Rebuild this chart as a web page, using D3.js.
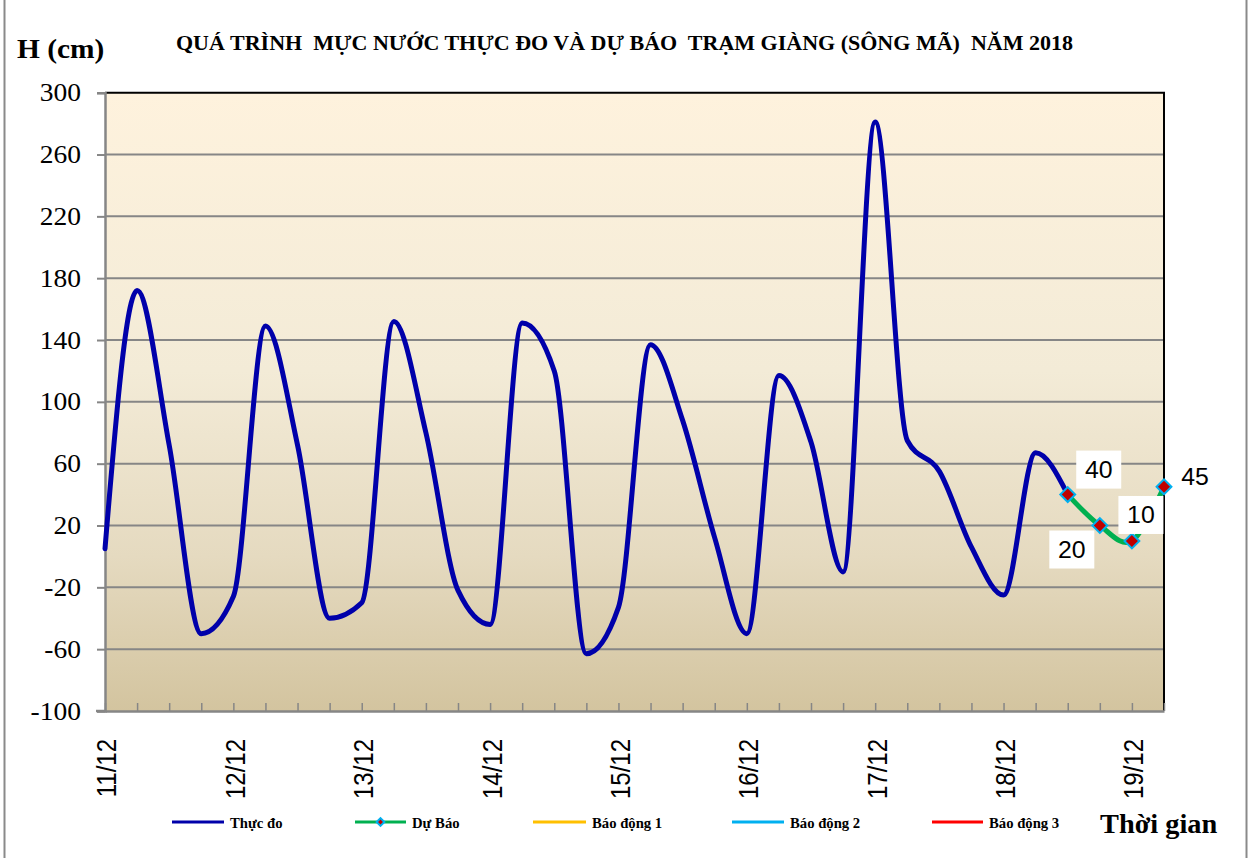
<!DOCTYPE html>
<html>
<head>
<meta charset="utf-8">
<script src="https://cdn.jsdelivr.net/npm/d3@7"></script>
<style>
  html, body { margin: 0; padding: 0; background: #fff; }
  svg { display: block; }
  text { white-space: pre; }
</style>
</head>
<body>
<svg id="chart" width="1251" height="858"></svg>
<script>
// ---------------- DATA ----------------
const title = "QUÁ TRÌNH  MỰC NƯỚC THỰC ĐO VÀ DỰ BÁO  TRẠM GIÀNG (SÔNG MÃ)  NĂM 2018";
const yAxisTitle = "H (cm)";
const xAxisTitle = "Thời gian";
// one category every 6 hours; a day label every 4 categories
const dayLabels = ["11/12", "12/12", "13/12", "14/12", "15/12", "16/12", "17/12", "18/12", "19/12"];
const stepsPerDay = 4;
const categoryCount = 34;
// observed water level (Thực đo), categories 0..30
const observed = [5, 172, 72, -50, -26, 149, 72, -40, -30, 152, 80, -22, -44, 151, 120, -63, -33,
                  137, 88, 12, -50, 117, 74, -10, 281, 75, 55, 6, -25, 67, 40];
// forecast (Dự Báo), categories 30..33
const forecastStart = 30;
const forecast = [40, 20, 10, 45];
const yTicks = [-100, -60, -20, 20, 60, 100, 140, 180, 220, 260, 300];
const legendNames = ["Thực đo", "Dự Báo", "Báo động 1", "Báo động 2", "Báo động 3"];

// ---------------- STYLE / LAYOUT ----------------
const colors = { observed: "#0000AA", forecast: "#00B050", bd1: "#FFC000", bd2: "#00B0F0", bd3: "#FF0000",
                 markerFill: "#C00000", markerStroke: "#00B0F0" };
const labelOffsets = [[31, -25], [-28, 24], [9, -26], [31, -10]];
const labelBoxed = [true, true, true, false];
const sx = 1.1; // horizontal stretch of the original picture's text

const svg = d3.select("#chart");
const pLeft = 105, pRight = 1164, pTop = 92.7, pBottom = 711;

const x = d3.scaleLinear().domain([0, categoryCount - 1]).range([pLeft, pRight]);
const y = d3.scaleLinear().domain([-100, 300]).range([pBottom, pTop]);

// outer frame
svg.append("rect").attr("x", 4.5).attr("y", -5).attr("width", 1242).attr("height", 870)
  .attr("fill", "none").attr("stroke", "#8a8a8a").attr("stroke-width", 2);

// plot background gradient
const defs = svg.append("defs");
const grad = defs.append("linearGradient").attr("id", "bg").attr("x1", 0).attr("y1", 0).attr("x2", 0).attr("y2", 1);
grad.append("stop").attr("offset", "0%").attr("stop-color", "#FEF2DD");
grad.append("stop").attr("offset", "45%").attr("stop-color", "#F3EBD7");
grad.append("stop").attr("offset", "75%").attr("stop-color", "#E5DAC0");
grad.append("stop").attr("offset", "100%").attr("stop-color", "#D3C49F");
svg.append("rect").attr("x", pLeft).attr("y", pTop).attr("width", pRight - pLeft).attr("height", pBottom - pTop)
  .attr("fill", "url(#bg)");

// gridlines
svg.append("g").selectAll("line").data(yTicks.filter(d => d > -100 && d < 300)).join("line")
  .attr("x1", pLeft).attr("x2", pRight).attr("y1", d => y(d)).attr("y2", d => y(d))
  .attr("stroke", "#868686").attr("stroke-width", 2);

// top/right border
svg.append("path").attr("d", `M${pLeft},${pTop}H${pRight}V${pBottom}`)
  .attr("fill", "none").attr("stroke", "#000").attr("stroke-width", 2);

// y axis
const yAxis = d3.axisLeft(y).tickValues(yTicks).tickSize(8).tickFormat(d => String(d));
const gy = svg.append("g").attr("transform", `translate(${pLeft},0)`).call(yAxis);
gy.select(".domain").attr("stroke", "#868686").attr("stroke-width", 2.5);
gy.selectAll(".tick line").attr("stroke", "#868686").attr("stroke-width", 2);
gy.selectAll(".tick text")
  .attr("x", null).attr("dy", null)
  .attr("transform", `translate(-24,8) scale(${sx},1)`)
  .attr("font-family", "Liberation Serif, Times New Roman, serif").attr("font-size", 25).attr("fill", "#000");

// x axis (ticks inward) with day labels
const xAxis = d3.axisBottom(x).tickValues(d3.range(0, categoryCount)).tickSizeInner(-8).tickSizeOuter(0)
  .tickFormat(() => "");
const gx = svg.append("g").attr("transform", `translate(0,${pBottom})`).call(xAxis);
gx.select(".domain").attr("stroke", "#868686").attr("stroke-width", 2.5);
gx.selectAll(".tick line").attr("stroke", "#868686").attr("stroke-width", 1.5);
svg.append("line").attr("x1", pLeft - 9).attr("x2", pLeft).attr("y1", pBottom).attr("y2", pBottom)
  .attr("stroke", "#868686").attr("stroke-width", 2.5);

svg.append("g").selectAll("text").data(dayLabels).join("text")
  .attr("transform", (d, i) => `translate(${x(i * stepsPerDay) + 2},739) scale(1.12,1) rotate(-90)`)
  .attr("text-anchor", "end").attr("dy", "0.35em")
  .attr("font-family", "Liberation Sans, Arial, sans-serif").attr("font-size", 24).attr("fill", "#000")
  .text(d => d);

// lines
const line = d3.line().x(d => x(d.i)).y(d => y(d.v)).curve(d3.curveMonotoneX);
const obsData = observed.map((v, i) => ({ i, v }));
const fcData = forecast.map((v, k) => ({ i: forecastStart + k, v }));

svg.append("path").datum(obsData).attr("d", line)
  .attr("fill", "none").attr("stroke", colors.observed).attr("stroke-width", 5)
  .attr("stroke-linejoin", "round").attr("stroke-linecap", "round");
svg.append("path").datum(fcData).attr("d", d3.line().x(d => x(d.i)).y(d => y(d.v)).curve(d3.curveCardinal.tension(0)))
  .attr("fill", "none").attr("stroke", colors.forecast).attr("stroke-width", 5)
  .attr("stroke-linejoin", "round");

// markers
svg.append("g").selectAll("path").data(fcData).join("path")
  .attr("transform", d => `translate(${x(d.i)},${y(d.v)}) rotate(45)`)
  .attr("d", d3.symbol().type(d3.symbolSquare).size(110))
  .attr("fill", colors.markerFill).attr("stroke", colors.markerStroke).attr("stroke-width", 2);

// data labels
const lab = svg.append("g");
fcData.forEach((d, k) => {
  const cx = x(d.i) + labelOffsets[k][0], cy = y(d.v) + labelOffsets[k][1];
  if (labelBoxed[k]) {
    lab.append("rect").attr("x", cx - 22.5).attr("y", cy - 19).attr("width", 45).attr("height", 38).attr("fill", "#fff");
  }
  lab.append("text").attr("transform", `translate(${cx},${cy}) scale(1.08,1)`)
    .attr("text-anchor", "middle").attr("dy", "0.36em")
    .attr("font-family", "Liberation Sans, Arial, sans-serif").attr("font-size", 23).attr("fill", "#000")
    .text(d.v);
});

// titles
svg.append("text").attr("x", 624.5).attr("y", 50).attr("text-anchor", "middle")
  .attr("font-family", "Liberation Serif, Times New Roman, serif").attr("font-weight", "bold")
  .attr("font-size", 20).attr("textLength", 897).attr("lengthAdjust", "spacingAndGlyphs")
  .text(title);
svg.append("text").attr("transform", `translate(17,58) scale(1.05,1)`)
  .attr("font-family", "Liberation Serif, Times New Roman, serif").attr("font-weight", "bold")
  .attr("font-size", 28).text(yAxisTitle);
svg.append("text").attr("transform", `translate(1100,833) scale(1.05,1)`)
  .attr("font-family", "Liberation Serif, Times New Roman, serif").attr("font-weight", "bold")
  .attr("font-size", 27).text(xAxisTitle);

// legend
const legendItems = [
  { name: legendNames[0], color: colors.observed, x1: 172, x2: 224, marker: false },
  { name: legendNames[1], color: colors.forecast, x1: 355, x2: 406, marker: true },
  { name: legendNames[2], color: colors.bd1, x1: 533, x2: 586, marker: false },
  { name: legendNames[3], color: colors.bd2, x1: 732, x2: 784, marker: false },
  { name: legendNames[4], color: colors.bd3, x1: 932, x2: 983, marker: false }
];
const lg = svg.append("g");
legendItems.forEach(it => {
  lg.append("line").attr("x1", it.x1).attr("x2", it.x2).attr("y1", 822).attr("y2", 822)
    .attr("stroke", it.color).attr("stroke-width", 3);
  if (it.marker) {
    lg.append("path").attr("transform", `translate(${(it.x1 + it.x2) / 2},822) rotate(45)`)
      .attr("d", d3.symbol().type(d3.symbolSquare).size(30))
      .attr("fill", colors.markerFill).attr("stroke", colors.markerStroke).attr("stroke-width", 2);
  }
  lg.append("text").attr("transform", `translate(${it.x2 + 6},827.5) scale(1.05,1)`)
    .attr("font-family", "Liberation Serif, Times New Roman, serif").attr("font-weight", "bold")
    .attr("font-size", 14).text(it.name);
});
</script>
</body>
</html>
